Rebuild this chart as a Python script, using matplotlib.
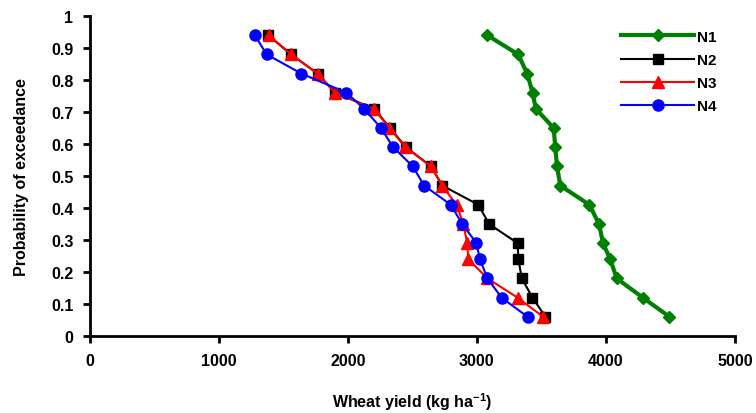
import matplotlib
matplotlib.use("Agg")
import matplotlib.pyplot as plt

plt.rcParams['font.family'] = ['Liberation Sans', 'DejaVu Sans']
plt.rcParams['font.weight'] = 'bold'
plt.rcParams['mathtext.fontset'] = 'custom'
plt.rcParams['mathtext.bf'] = 'Liberation Sans:bold'
plt.rcParams['mathtext.rm'] = 'Liberation Sans:bold'
plt.rcParams['mathtext.default'] = 'bf'
plt.rcParams['axes.unicode_minus'] = False

# probability of exceedance (16 years)
prob = [0.94, 0.88, 0.82, 0.76, 0.71, 0.65, 0.59, 0.53,
        0.47, 0.41, 0.35, 0.29, 0.24, 0.18, 0.12, 0.06]

# wheat yield (kg/ha) per treatment
n1 = [3080, 3320, 3390, 3432, 3457, 3595, 3608, 3621,
      3647, 3872, 3947, 3978, 4034, 4084, 4286, 4493]
n2 = [1382, 1558, 1765, 1901, 2204, 2326, 2450, 2645,
      2732, 3012, 3094, 3316, 3322, 3348, 3431, 3531]
n3 = [1385, 1560, 1765, 1900, 2200, 2322, 2446, 2645,
      2730, 2842, 2895, 2925, 2933, 3082, 3315, 3514]
n4 = [1279, 1369, 1640, 1989, 2126, 2256, 2351, 2503,
      2591, 2798, 2886, 2997, 3023, 3082, 3191, 3393]

labels = ["N1", "N2", "N3", "N4"]

fig = plt.figure(figsize=(7.56, 4.14), dpi=100)
ax = fig.add_axes([0.119, 0.186, 0.853, 0.773])

ax.plot(n1, prob, color="#008000", lw=3, marker="D", ms=6.5, label=labels[0])
ax.plot(n2, prob, color="black", lw=1.5, marker="s", ms=7, label=labels[1])
ax.plot(n3, prob, color="red", lw=1.5, marker="^", ms=9, label=labels[2])
ax.plot(n4, prob, color="blue", lw=1.5, marker="o", ms=8, label=labels[3])

ax.set_xlim(0, 5000)
ax.set_ylim(0, 1)
ax.set_xticks(range(0, 5001, 1000))
ax.set_yticks([i / 10 for i in range(11)])
ax.set_yticklabels(["0"] + ["0.%d" % i for i in range(1, 10)] + ["1"])

for s in ["top", "right"]:
    ax.spines[s].set_visible(False)
for s in ["left", "bottom"]:
    ax.spines[s].set_linewidth(2)
ax.tick_params(direction="out", width=2, length=5, labelsize=11.5, pad=7)

ax.set_xlabel(r"Wheat yield (kg ha$^{-1}$)", fontsize=11.5, fontweight="bold", labelpad=16)
ax.set_ylabel("Probability of exceedance", fontsize=11.5, fontweight="bold", labelpad=16)

leg = ax.legend(loc="upper left", bbox_to_anchor=(0.802, 1.0), frameon=False,
                fontsize=11, handlelength=4.8, handletextpad=0.2, labelspacing=0.6)
for t in leg.get_texts():
    t.set_fontweight("bold")

fig.savefig("out.png", dpi=100)
